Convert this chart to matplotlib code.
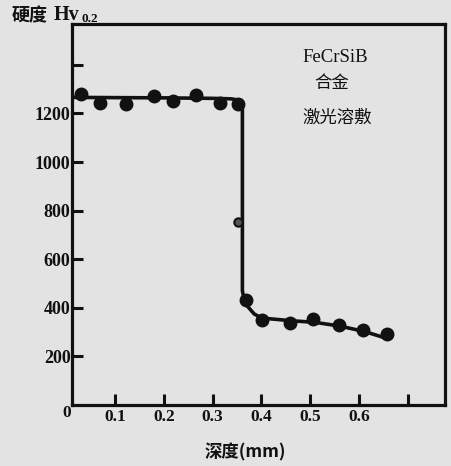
import matplotlib
matplotlib.use("Agg")
import matplotlib.pyplot as plt

# measured hardness points
depth_mm = [0.030, 0.069, 0.122, 0.180, 0.219, 0.267, 0.315, 0.353, 0.368, 0.401, 0.459, 0.506, 0.558, 0.608, 0.657]
hardness = [1280, 1244, 1239, 1272, 1252, 1277, 1244, 1239, 432, 350, 339, 353, 329, 309, 292]
# transition point (smaller marker)
trans_x = [0.353]
trans_y = [752]

# hand-drawn trend curve
line_x = [0.012, 0.10, 0.20, 0.30, 0.338, 0.350, 0.357, 0.361, 0.361, 0.364, 0.372, 0.385, 0.40, 0.46, 0.51, 0.56, 0.61, 0.657]
line_y = [1266, 1265, 1264, 1262, 1260, 1256, 1248, 1232, 470, 440, 405, 375, 358, 347, 340, 325, 303, 274]

yticks = [200, 400, 600, 800, 1000, 1200, 1400]
ytick_labels = ["200", "400", "600", "800", "1000", "1200", ""]
xticks = [0.1, 0.2, 0.3, 0.4, 0.5, 0.6, 0.7]
xtick_labels = ["0.1", "0.2", "0.3", "0.4", "0.5", "0.6", ""]

bg = "#e3e3e3"
ink = "#111111"
cjk = ["Noto Sans CJK SC", "DejaVu Sans"]
serif = "Liberation Serif"

fig = plt.figure(figsize=(4.52, 4.66), dpi=100, facecolor=bg)
ax = fig.add_axes([72/452, (466-405)/466, (445-72)/452, (405-24)/466], facecolor=bg)

ax.plot(line_x, line_y, color=ink, lw=2.6, solid_capstyle="round", solid_joinstyle="round", zorder=2)
ax.plot(depth_mm, hardness, "o", color=ink, ms=9, zorder=3)
ax.plot(trans_x, trans_y, "o", mfc="#555555", mec=ink, mew=1.5, ms=6, zorder=3)

ax.set_xlim(0.012, 0.776)
ax.set_ylim(0, 1568)

ax.set_yticks(yticks)
ax.set_yticklabels(ytick_labels, fontfamily=serif, fontweight="bold", fontsize=13)
ax.set_xticks(xticks)
ax.set_xticklabels(xtick_labels, fontfamily=serif, fontweight="bold", fontsize=12.5)
ax.tick_params(axis="both", direction="in", length=8, width=2.2, color=ink, labelcolor=ink)
ax.tick_params(axis="y", pad=1)
ax.tick_params(axis="x", pad=3)

for s in ax.spines.values():
    s.set_linewidth(2.3)
    s.set_color(ink)

# origin label
fig.text(67/452, 1-413/466, "0", ha="center", va="center", fontfamily=serif,
         fontweight="bold", fontsize=12.5, color=ink)

# y-axis title
fig.text(12/452, 1-16/466, "硬度", ha="left", va="center", fontfamily=cjk,
         fontweight="bold", fontsize=13, color=ink)
fig.text(54/452, 1-15/466, "Hv", ha="left", va="center", fontfamily=serif,
         fontweight="bold", fontsize=14.5, color=ink)
fig.text(82/452, 1-19/466, "0.2", ha="left", va="center", fontfamily=serif,
         fontweight="bold", fontsize=9.5, color=ink)

# x-axis title
fig.text(245/452, 1-452/466, "深度(mm)", ha="center", va="center", fontfamily=cjk,
         fontweight="bold", fontsize=12.5, color=ink)

# annotation
fig.text(335/452, 1-58/466, "FeCrSiB", ha="center", va="center", fontfamily=serif,
         fontsize=13.5, color=ink)
fig.text(332/452, 1-83/466, "合金", ha="center", va="center", fontfamily=cjk,
         fontsize=12.5, color=ink)
fig.text(337/452, 1-118/466, "激光溶敷", ha="center", va="center", fontfamily=cjk,
         fontsize=12.5, color=ink)

fig.savefig("out.png", dpi=100, facecolor=bg)
